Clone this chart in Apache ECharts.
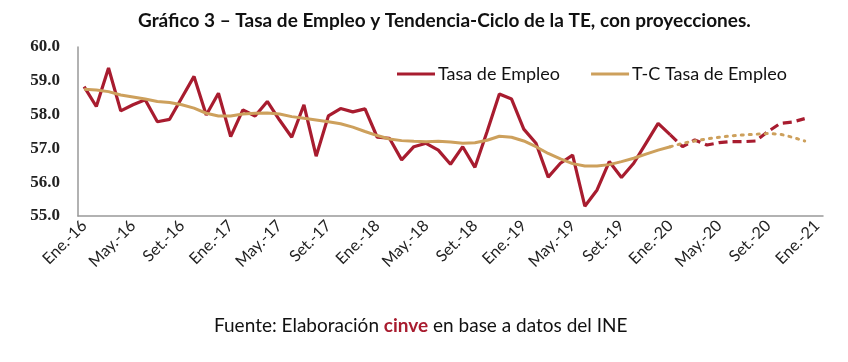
<!DOCTYPE html>
<html>
<head>
<meta charset="utf-8">
<script src="https://cdn.jsdelivr.net/npm/echarts@6/dist/echarts.min.js"></script>
<style>html,body{margin:0;padding:0;background:#fff;}#c{width:848px;height:362px;}</style>
</head>
<body>
<div id="c"></div>
<script>
var monthNames = ['Ene.','Feb.','Mar.','Abr.','May.','Jun.','Jul.','Ago.','Set.','Oct.','Nov.','Dic.'];
var years = ['16','17','18','19','20','21'];
var categories = [];
for (var y = 0; y < years.length; y++) {
  for (var m = 0; m < 12; m++) {
    if (y === years.length - 1 && m > 0) break;
    categories.push(monthNames[m] + '-' + years[y]);
  }
}
// Tasa de Empleo (observed, Ene-16 .. Ene-20)
var tasaObs = [58.83,58.24,59.38,58.11,58.29,58.44,57.79,57.86,58.50,59.13,57.99,58.63,
  57.35,58.14,57.96,58.39,57.84,57.33,58.29,56.77,57.96,58.18,58.08,58.17,
  57.33,57.30,56.66,57.05,57.15,56.95,56.53,57.05,56.44,57.50,58.61,58.46,
  57.57,57.15,56.15,56.56,56.80,55.29,55.77,56.61,56.14,56.56,57.15,57.74,
  57.40];
// Tasa de Empleo projection (Ene-20 .. Dic-20)
var tasaProy = [57.40,57.05,57.25,57.10,57.17,57.20,57.20,57.22,57.50,57.74,57.78,57.88];
// T-C Tasa de Empleo (observed, Ene-16 .. Ene-20)
var tcObs = [58.75,58.73,58.68,58.58,58.52,58.46,58.39,58.36,58.29,58.19,58.04,57.96,
  57.96,58.02,58.04,58.05,58.02,57.94,57.89,57.84,57.79,57.73,57.63,57.50,
  57.38,57.28,57.23,57.21,57.20,57.21,57.19,57.15,57.17,57.24,57.36,57.33,
  57.22,57.05,56.85,56.69,56.55,56.48,56.48,56.52,56.61,56.71,56.83,56.95,
  57.05];
// T-C projection (Ene-20 .. Dic-20)
var tcProy = [57.05,57.15,57.22,57.28,57.33,57.37,57.40,57.42,57.44,57.42,57.33,57.22];
var yTicks = [55,56,57,58,59,60];

var projStart = tasaObs.length - 1;
function pad(arr, start) {
  var out = [];
  for (var i = 0; i < categories.length; i++) {
    var k = i - start;
    out.push(k >= 0 && k < arr.length ? arr[k] : null);
  }
  return out;
}
var RED = '#A81C2F', TAN = '#CDA05C';
var FONT = 'Lato';
var chart = echarts.init(document.getElementById('c'), null, {renderer: 'canvas'});
chart.setOption({
  animation: false,
  title: [{
    text: 'Gráfico 3 – Tasa de Empleo y Tendencia-Ciclo de la TE, con proyecciones.',
    left: 133, top: 6,
    textStyle: {fontFamily: FONT, fontSize: 19, fontWeight: 'bold', color: '#111'}
  }, {
    text: '{a|Fuente: Elaboración }{b|cinve}{a| en base a datos del INE}',
    left: 209, top: 311,
    textStyle: {fontWeight: 'normal', rich: {
      a: {fontFamily: FONT, fontSize: 19, fontWeight: 'normal', color: '#111'},
      b: {fontFamily: FONT, fontSize: 19, fontWeight: 'bold', color: '#A81C2F'}
    }}
  }],
  legend: {
    top: 60, left: 392,
    itemWidth: 38, itemHeight: 3, itemGap: 31,
    icon: 'rect',
    textStyle: {fontFamily: FONT, fontSize: 18, color: '#111', padding: [0,0,0,-2]},
    data: ['Tasa de Empleo', 'T-C Tasa de Empleo']
  },
  grid: {left: 78, right: 25, top: 47, bottom: 146, containLabel: false},
  xAxis: {
    type: 'category', data: categories, boundaryGap: true,
    axisLine: {lineStyle: {color: '#999', width: 1.5}},
    axisTick: {show: false},
    axisLabel: {interval: 3, rotate: 45, fontFamily: FONT, fontSize: 16, color: '#222', margin: 7}
  },
  yAxis: {
    type: 'value', min: yTicks[0], max: yTicks[yTicks.length-1], interval: 1,
    axisLine: {show: true, lineStyle: {color: '#999', width: 1.5}},
    axisTick: {show: false},
    splitLine: {show: false},
    axisLabel: {formatter: function(v){return v.toFixed(1);}, fontFamily: 'Liberation Serif', fontWeight: 'bold', fontSize: 17, color: '#222', margin: 18}
  },
  series: [
    {name: 'Tasa de Empleo', type: 'line', data: pad(tasaObs, 0), showSymbol: false, symbol: 'none',
      lineStyle: {color: RED, width: 3.2}, itemStyle: {color: RED}, connectNulls: false},
    {name: 'Tasa proy', type: 'line', data: pad(tasaProy, projStart), showSymbol: false, symbol: 'none',
      lineStyle: {color: RED, width: 3.2, type: [9, 5]}, itemStyle: {color: RED}},
    {name: 'T-C Tasa de Empleo', type: 'line', data: pad(tcObs, 0), showSymbol: false, symbol: 'none',
      lineStyle: {color: TAN, width: 3}, itemStyle: {color: TAN}},
    {name: 'T-C proy', type: 'line', data: pad(tcProy, projStart), showSymbol: false, symbol: 'none',
      lineStyle: {color: TAN, width: 3, type: [2, 6], cap: 'round'}, itemStyle: {color: TAN}}
  ]
});
</script>
</body>
</html>
